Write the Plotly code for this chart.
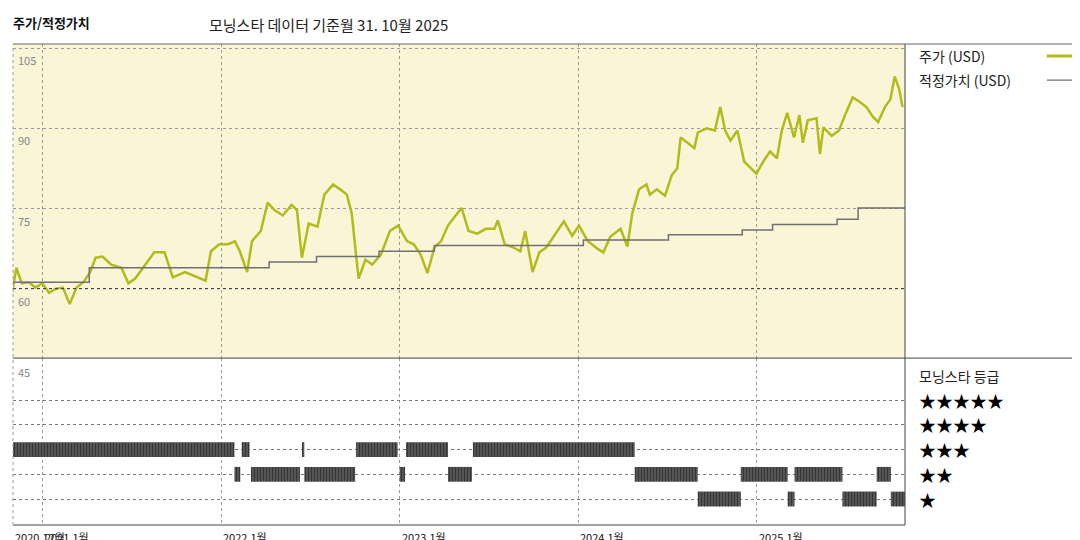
import pandas as pd
import plotly.graph_objects as go

base = pd.Timestamp('2021-01-01')

# price: days since 2021-01-01, USD
price_days = [-63, -54, -43, -29, -15, -1, 13, 27, 41, 55, 69, 83, 97, 108, 122, 140, 161, 175, 189, 206,
              228, 249, 266, 291, 315, 333, 344, 361, 379, 393, 403, 418, 428, 446, 460, 474, 491, 509, 520, 530,
              544, 562, 576, 594, 611, 622, 632, 639, 646, 660, 674, 692, 710, 727, 745, 759, 773, 787, 801, 815,
              829, 843, 857, 871, 889, 906, 924, 931, 945, 963, 977, 987, 1002, 1016, 1030,
              1066, 1083, 1097, 1115, 1136, 1147, 1161, 1182, 1196, 1206, 1220, 1235, 1242, 1256, 1273, 1287, 1298,
              1305, 1319, 1333, 1340, 1358, 1375, 1386, 1396, 1407, 1421, 1435, 1449, 1460, 1474, 1488, 1502, 1512,
              1523, 1537, 1548, 1555, 1565, 1583, 1590, 1597, 1614, 1629, 1643, 1657, 1671, 1685, 1699, 1709, 1723,
              1734, 1743, 1752, 1759]
price = [59.2, 63.9, 61.0, 61.2, 60.2, 61.0, 59.2, 60.0, 60.2, 57.1, 60.2, 61.2, 63.1, 65.8, 66.0, 64.5, 63.9, 61.0, 61.9, 64.1,
         66.8, 66.8, 62.1, 63.1, 62.1, 61.5, 67.0, 68.3, 68.3, 68.9, 67.0, 63.1, 68.9, 70.8, 76.1, 74.7, 73.7, 75.7, 74.7, 65.8,
         72.2, 71.6, 77.6, 79.5, 78.4, 77.6, 74.1, 67.7, 61.9, 65.4, 64.5, 66.4, 70.8, 71.8, 68.9, 68.3, 66.4, 62.9, 67.7, 68.9,
         71.8, 73.5, 75.1, 70.8, 70.3, 71.2, 71.2, 72.8, 68.3, 67.7, 67.0, 70.8, 63.1, 66.8, 67.7,
         72.6, 69.9, 71.8, 68.9, 67.4, 66.8, 69.7, 71.2, 67.9, 74.1, 78.6, 79.5, 77.6, 78.6, 77.4, 81.3, 82.5,
         88.3, 87.3, 86.3, 89.2, 90.0, 89.6, 94.0, 89.6, 87.7, 89.6, 83.8, 82.5, 81.5, 83.8, 85.7, 84.4, 89.6,
         92.9, 88.3, 92.5, 87.3, 91.5, 91.9, 85.2, 90.2, 88.6, 89.6, 92.9, 95.8, 95.0, 94.0, 92.1, 91.2, 94.0,
         95.4, 99.7, 97.4, 94.0]

# fair value steps
fv_days = [-63, 95, 463, 560, 666, 688, 801, 1106, 1280, 1431, 1493, 1625, 1668, 1764]
fair_value = [61.2, 63.9, 65.0, 66.0, 66.0, 67.0, 68.1, 69.1, 70.1, 71.0, 72.0, 73.0, 75.1, 75.1]

# star rating periods [start, end] days
rating_3 = [(-61, 392), (407, 423), (531, 535), (641, 726), (743, 829), (880, 1211)]
rating_2 = [(392, 404), (426, 526), (535, 639), (730, 741), (829, 878), (1211, 1340), (1428, 1524),
            (1538, 1636), (1706, 1735)]
rating_1 = [(1340, 1428), (1524, 1538), (1636, 1706), (1735, 1764)]

year_ticks = ['2021-01-01', '2022-01-01', '2023-01-01', '2024-01-01', '2025-01-01']
year_labels = ['2021,1월', '2022,1월', '2023,1월', '2024,1월', '2025,1월']
price_ticks = [105, 90, 75, 60]

font = 'Noto Sans CJK KR, Noto Sans, sans-serif'
price_color = '#B3BA1C'
fv_color = '#707070'
grid_color = '#9a9a9a'

to_date = lambda d: base + pd.Timedelta(days=d)

fig = go.Figure()
fig.add_trace(go.Scatter(x=[to_date(d) for d in price_days], y=price, mode='lines',
                         line=dict(color=price_color, width=2.5), xaxis='x', yaxis='y'))
fig.add_trace(go.Scatter(x=[to_date(d) for d in fv_days], y=fair_value, mode='lines',
                         line=dict(color=fv_color, width=1.5, shape='hv'), xaxis='x', yaxis='y'))

for stars, periods in [(3, rating_3), (2, rating_2), (1, rating_1)]:
    fig.add_trace(go.Bar(
        y=[stars] * len(periods),
        x=[(e - s) * 86400000 for s, e in periods],
        base=[to_date(s) for s, e in periods],
        orientation='h', width=0.6,
        marker=dict(color='#333', line=dict(width=0),
                    pattern=dict(shape='|', fgcolor='#000', bgcolor='#6a6a6a', size=3, solidity=0.6)),
        xaxis='x2', yaxis='y2'))

xr = [to_date(-61), to_date(1764)]
fig.update_layout(
    width=1080, height=540, showlegend=False,
    margin=dict(l=5, r=183, t=36, b=23, autoexpand=False),
    paper_bgcolor='white', plot_bgcolor='white',
    font=dict(family=font, color='#222'),
    xaxis=dict(range=xr, type='date', domain=[0, 1], anchor='y', tickvals=year_ticks, showticklabels=False,
               showgrid=True, gridcolor=grid_color, griddash='dot', gridwidth=1, zeroline=False),
    yaxis=dict(range=[47, 105.8], domain=[0.347, 1], tickvals=price_ticks, showticklabels=False,
               showgrid=True, gridcolor=grid_color, griddash='dot', zeroline=False),
    xaxis2=dict(range=xr, type='date', domain=[0, 1], anchor='y2', tickvals=year_ticks, showticklabels=False,
                showgrid=True, gridcolor=grid_color, griddash='dot', zeroline=False),
    yaxis2=dict(range=[-0.05, 6.7], domain=[0, 0.347], tickvals=[1, 2, 3, 4, 5], showticklabels=False,
                showgrid=True, gridcolor='#777', griddash='dot', zeroline=False),
    barmode='overlay',
)

shapes = [
    dict(type='rect', xref='x domain', yref='y domain', x0=0, x1=1, y0=0, y1=1,
         fillcolor='#FAF5D7', line=dict(width=0), layer='below'),
    dict(type='line', xref='x domain', yref='y', x0=0, x1=1, y0=60, y1=60,
         line=dict(color='#333', width=1, dash='dot')),
    dict(type='line', xref='paper', yref='paper', x0=0, x1=1.22, y0=1, y1=1, line=dict(color='#666', width=1)),
    dict(type='line', xref='paper', yref='paper', x0=0, x1=1.22, y0=0.347, y1=0.347, line=dict(color='#444', width=1)),
    dict(type='line', xref='paper', yref='paper', x0=0, x1=1, y0=0, y1=0, line=dict(color='#444', width=1)),
    dict(type='line', xref='paper', yref='paper', x0=1, x1=1, y0=0, y1=1, line=dict(color='#444', width=1)),
    dict(type='line', xref='paper', yref='paper', x0=0, x1=0, y0=0, y1=1, line=dict(color='#999', width=1, dash='dot')),
    # legend samples
    dict(type='line', xref='paper', yref='paper', x0=1.159, x1=1.2, y0=0.975, y1=0.975,
         line=dict(color=price_color, width=3)),
    dict(type='line', xref='paper', yref='paper', x0=1.159, x1=1.2, y0=0.925, y1=0.925,
         line=dict(color=fv_color, width=1.2)),
]

ann = [
    dict(text='<b>주가/적정가치</b>', xref='paper', yref='paper', x=-0.002, y=1.045, xanchor='left',
         yanchor='middle', showarrow=False, font=dict(size=13, color='#111')),
    dict(text='모닝스타 데이터 기준월 31. 10월 2025', xref='paper', yref='paper', x=0.218, y=1.04,
         xanchor='left', yanchor='middle', showarrow=False, font=dict(size=15, color='#222')),
    dict(text='주가 (USD)', xref='paper', yref='paper', x=1.013, y=0.975, xanchor='left',
         yanchor='middle', showarrow=False, font=dict(size=14, color='#222')),
    dict(text='적정가치 (USD)', xref='paper', yref='paper', x=1.013, y=0.925, xanchor='left',
         yanchor='middle', showarrow=False, font=dict(size=14, color='#222')),
    dict(text='모닝스타 등급', xref='paper', yref='paper', x=1.013, y=0.31, xanchor='left',
         yanchor='middle', showarrow=False, font=dict(size=14, color='#222')),
    dict(text='2020,12월', xref='paper', yref='paper', x=0.0, y=-0.004, xanchor='left', yanchor='top',
         showarrow=False, font=dict(size=11, color='#111')),
]
for s in [5, 4, 3, 2, 1]:
    ann.append(dict(text='★' * s, xref='paper', yref='y2', x=1.013, y=s, xanchor='left', yanchor='middle',
                    showarrow=False, font=dict(size=17, color='#000')))
for t, lab in zip(year_ticks, year_labels):
    ann.append(dict(text=lab, xref='x', yref='paper', x=t, y=-0.004, xanchor='left', yanchor='top',
                    showarrow=False, font=dict(size=11, color='#111')))
for v in price_ticks + [45]:
    yy = v if v != 45 else 47
    ann.append(dict(text=str(v), xref='paper', yref='y', x=0.003, y=yy, xanchor='left',
                    yanchor='top', yshift=-2 if v != 45 else -4, showarrow=False, font=dict(size=11, color='#888')))

fig.update_layout(shapes=shapes, annotations=ann)
fig.write_html('out.html')
